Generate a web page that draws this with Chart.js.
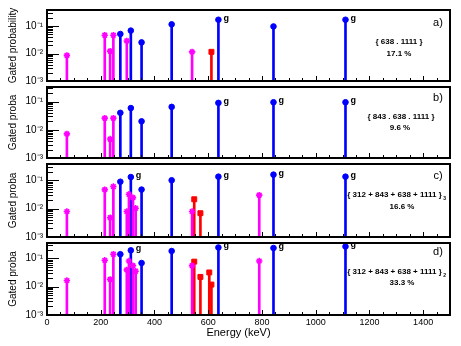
<!DOCTYPE html>
<html>
<head>
<meta charset="utf-8">
<script src="https://cdn.jsdelivr.net/npm/chart.js@4.4.3/dist/chart.umd.min.js"></script>
<style>
  html, body { margin: 0; padding: 0; background: #fff; }
  #wrap { position: relative; width: 461px; height: 346px; }
  #wrap canvas { position: absolute; left: 0; top: 0; }
</style>
</head>
<body>
<div id="wrap">
  <canvas id="panelA" width="461" height="346"></canvas>
  <canvas id="panelB" width="461" height="346"></canvas>
  <canvas id="panelC" width="461" height="346"></canvas>
  <canvas id="panelD" width="461" height="346"></canvas>
</div>
<script>
// ---- data ----
const xTickLabels = [0, 200, 400, 600, 800, 1000, 1200, 1400];

const blueEnergy = [273, 312, 352, 464, 638, 843, 1111];
const blueA = [0.052, 0.069, 0.0256, 0.117, 0.172, 0.098, 0.172];
const blueB = [0.040, 0.059, 0.020, 0.065, 0.090, 0.095, 0.095];
const blueC = [0.089, 0.130, 0.047, 0.100, 0.134, 0.158, 0.134];
const blueD = [0.139, 0.190, 0.068, 0.180, 0.240, 0.230, 0.260];

const magentaEnergyA = [74, 215, 235, 247, 297, 540];
const magentaA = [0.0086, 0.047, 0.0123, 0.047, 0.029, 0.0116];
const magentaEnergyB = [74, 215, 235, 247];
const magentaB = [0.0072, 0.026, 0.0047, 0.026];
const magentaEnergyCD = [74, 215, 235, 247, 297, 305, 320, 330, 540, 790];
const magentaC = [0.0079, 0.047, 0.0048, 0.060, 0.0079, 0.032, 0.0244, 0.0103, 0.0079, 0.030];
const magentaD = [0.0164, 0.085, 0.018, 0.139, 0.039, 0.080, 0.055, 0.035, 0.055, 0.080];

const redEnergyA = [612];
const redA = [0.0116];
const redEnergyC = [548, 571];
const redC = [0.0214, 0.0069];
const redEnergyD = [548, 571, 604, 612];
const redD = [0.076, 0.022, 0.0316, 0.0118];

const gLinesA = [638, 1111];
const gLinesB = [638, 843, 1111];
const gLinesCD = [312, 638, 843, 1111];

const panelTags = ["a)", "b)", "c)", "d)"];
const gateTexts = ["{ 638 . 1111 }", "{ 843 . 638 . 1111 }", "{ 312 + 843 + 638 + 1111 }", "{ 312 + 843 + 638 + 1111 }"];
const gateSubs = ["", "", "3", "2"];
const shareTexts = ["17.1 %", "9.6 %", "16.6 %", "33.3 %"];
const yTitles = ["Gated probability", "Gated proba", "Gated proba", "Gated proba"];

// ---- layout ----
const FONT = "'Liberation Sans', Arial, Helvetica, sans-serif";
const W = 461, H = 346, LEFT = 47, RIGHT = 450;
const FRAMES = [[7, 81], [87, 158], [164, 237], [243, 315]];
const Y_MIN = 0.001;
const Y_MAX = [0.39, 0.33, 0.375, 0.345];
const TAG_DY = [13, 11, 12, 9];
const GATE_DY = [32, 30, 31, 29];
const SHARE_DY = [44, 41, 43, 40];
const GATE_X = [399, 401, 394.5, 394.5];
const SHARE_X = [399, 400, 402, 402];

const BLUE = "#0000ff", RED = "#ff0000", MAGENTA = "#ff00ff";

const SUP = { "-": "\u207B", "0": "\u2070", "1": "\u00B9", "2": "\u00B2", "3": "\u00B3" };
function decadeLabel(v) {
  const l = Math.log10(v);
  const r = Math.round(l);
  if (Math.abs(l - r) > 1e-6) return "";
  return "10" + String(r).split("").map((c) => SUP[c]).join("");
}

// frame, inside ticks, "g" marks and the annotation text
const rootStyle = {
  id: "rootStyle",
  afterDraw(chart, args, opts) {
    const { ctx, chartArea: a, scales: { x, y } } = chart;
    const i = opts.panel;
    ctx.save();
    ctx.strokeStyle = "#000";
    ctx.lineWidth = 1;
    ctx.beginPath();
    for (let e = -3; e <= 0; e++) {
      for (let m = 1; m <= 9; m++) {
        const v = m * Math.pow(10, e);
        if (v < y.min * 0.999 || v > y.max) continue;
        const py = Math.round(y.getPixelForValue(v)) + 0.5;
        ctx.moveTo(a.left, py);
        ctx.lineTo(a.left + (m === 1 ? 12 : 6), py);
      }
    }
    for (let v = 50; v < 1500; v += 50) {
      const px = Math.round(x.getPixelForValue(v)) + 0.5;
      ctx.moveTo(px, a.bottom);
      ctx.lineTo(px, a.bottom - (v % 200 === 0 ? 5 : 3));
    }
    ctx.stroke();
    ctx.lineWidth = 2;
    ctx.strokeRect(a.left, a.top, a.right - a.left, a.bottom - a.top);

    // "g" next to the gating lines
    ctx.fillStyle = "#000";
    ctx.font = "bold 9px " + FONT;
    ctx.textAlign = "left";
    ctx.textBaseline = "alphabetic";
    chart.data.datasets.forEach((ds, di) => {
      if (!ds.gLines) return;
      const meta = chart.getDatasetMeta(di);
      ds.data.forEach((d, k) => {
        if (ds.gLines.includes(d.x)) {
          const el = meta.data[k];
          ctx.fillText("g", el.x + 5, el.y + 1);
        }
      });
    });

    // panel tag and gate text
    ctx.textAlign = "center";
    ctx.textBaseline = "middle";
    ctx.font = "11px " + FONT;
    ctx.fillText(panelTags[i], a.right - 12, a.top + TAG_DY[i]);
    ctx.font = "bold 8px " + FONT;
    ctx.fillText(gateTexts[i], GATE_X[i], a.top + GATE_DY[i]);
    if (gateSubs[i]) {
      const w = ctx.measureText(gateTexts[i]).width;
      ctx.font = "bold 5px " + FONT;
      ctx.textAlign = "left";
      ctx.fillText(gateSubs[i], GATE_X[i] + w / 2 + 1.5, a.top + GATE_DY[i] + 4);
      ctx.textAlign = "center";
      ctx.font = "bold 8px " + FONT;
    }
    ctx.fillText(shareTexts[i], SHARE_X[i], a.top + SHARE_DY[i]);

    if (i === 3) {
      ctx.font = "11px " + FONT;
      ctx.fillText("Energy (keV)", 238.5, 333);
    }
    ctx.restore();
  },
};

function stems(energy, prob, color) {
  return {
    type: "bar",
    data: energy.map((e, k) => ({ x: e, y: [Y_MIN, prob[k]] })),
    backgroundColor: color,
    borderWidth: 0,
    barThickness: 2,
    grouped: false,
    order: 2,
  };
}

function markers(energy, prob, color, style, radius, gLines) {
  return {
    type: "scatter",
    data: energy.map((e, k) => ({ x: e, y: prob[k] })),
    pointStyle: style,
    pointRadius: radius,
    pointBackgroundColor: color,
    pointBorderColor: color,
    pointBorderWidth: style === "star" ? 1.6 : 1,
    order: 1,
    gLines: gLines || null,
  };
}

function renderPanel(canvasId, i, series, gLines) {
  const [top, bottom] = FRAMES[i];
  const last = i === 3;
  const datasets = [];
  series.forEach((s) => {
    if (s.energy.length) datasets.push(stems(s.energy, s.prob, s.color));
  });
  series.forEach((s) => {
    if (s.energy.length) datasets.push(markers(s.energy, s.prob, s.color, s.style, s.radius, s.color === BLUE ? gLines : null));
  });

  return new Chart(document.getElementById(canvasId), {
    type: "scatter",
    data: { datasets },
    options: {
      responsive: false,
      animation: false,
      events: [],
      layout: { padding: { top, bottom: last ? 0 : H - bottom, left: 0, right: W - RIGHT } },
      plugins: { legend: { display: false }, tooltip: { enabled: false }, rootStyle: { panel: i } },
      scales: {
        x: {
          type: "linear",
          min: 0,
          max: 1500,
          offset: false,
          grid: { display: false, drawTicks: false },
          border: { display: false },
          afterBuildTicks: (s) => { s.ticks = xTickLabels.map((v) => ({ value: v })); },
          ticks: {
            display: last,
            autoSkip: false,
            maxRotation: 0,
            padding: 2,
            color: "#000",
            font: { family: FONT, size: 9 },
            callback: (v) => String(v),
          },
          afterFit: (s) => { s.height = last ? H - bottom : 0; },
        },
        y: {
          type: "logarithmic",
          min: Y_MIN,
          max: Y_MAX[i],
          grid: { display: false, drawTicks: false },
          border: { display: false },
          ticks: {
            autoSkip: false,
            padding: 4,
            color: "#000",
            font: { family: FONT, size: 10 },
            callback: (v) => decadeLabel(v),
          },
          title: {
            display: true,
            text: yTitles[i],
            color: "#000",
            font: { family: FONT, size: 10 },
            padding: { top: 7, bottom: 0 },
          },
          afterFit: (s) => { s.width = LEFT; },
        },
      },
    },
    plugins: [rootStyle],
  });
}

const series = (mE, mP, rE, rP, bP) => [
  { energy: mE, prob: mP, color: MAGENTA, style: "star", radius: 3.2 },
  { energy: rE, prob: rP, color: RED, style: "rect", radius: 3.5 },
  { energy: blueEnergy, prob: bP, color: BLUE, style: "circle", radius: 2.8 },
];

renderPanel("panelA", 0, series(magentaEnergyA, magentaA, redEnergyA, redA, blueA), gLinesA);
renderPanel("panelB", 1, series(magentaEnergyB, magentaB, [], [], blueB), gLinesB);
renderPanel("panelC", 2, series(magentaEnergyCD, magentaC, redEnergyC, redC, blueC), gLinesCD);
renderPanel("panelD", 3, series(magentaEnergyCD, magentaD, redEnergyD, redD, blueD), gLinesCD);
</script>
</body>
</html>
